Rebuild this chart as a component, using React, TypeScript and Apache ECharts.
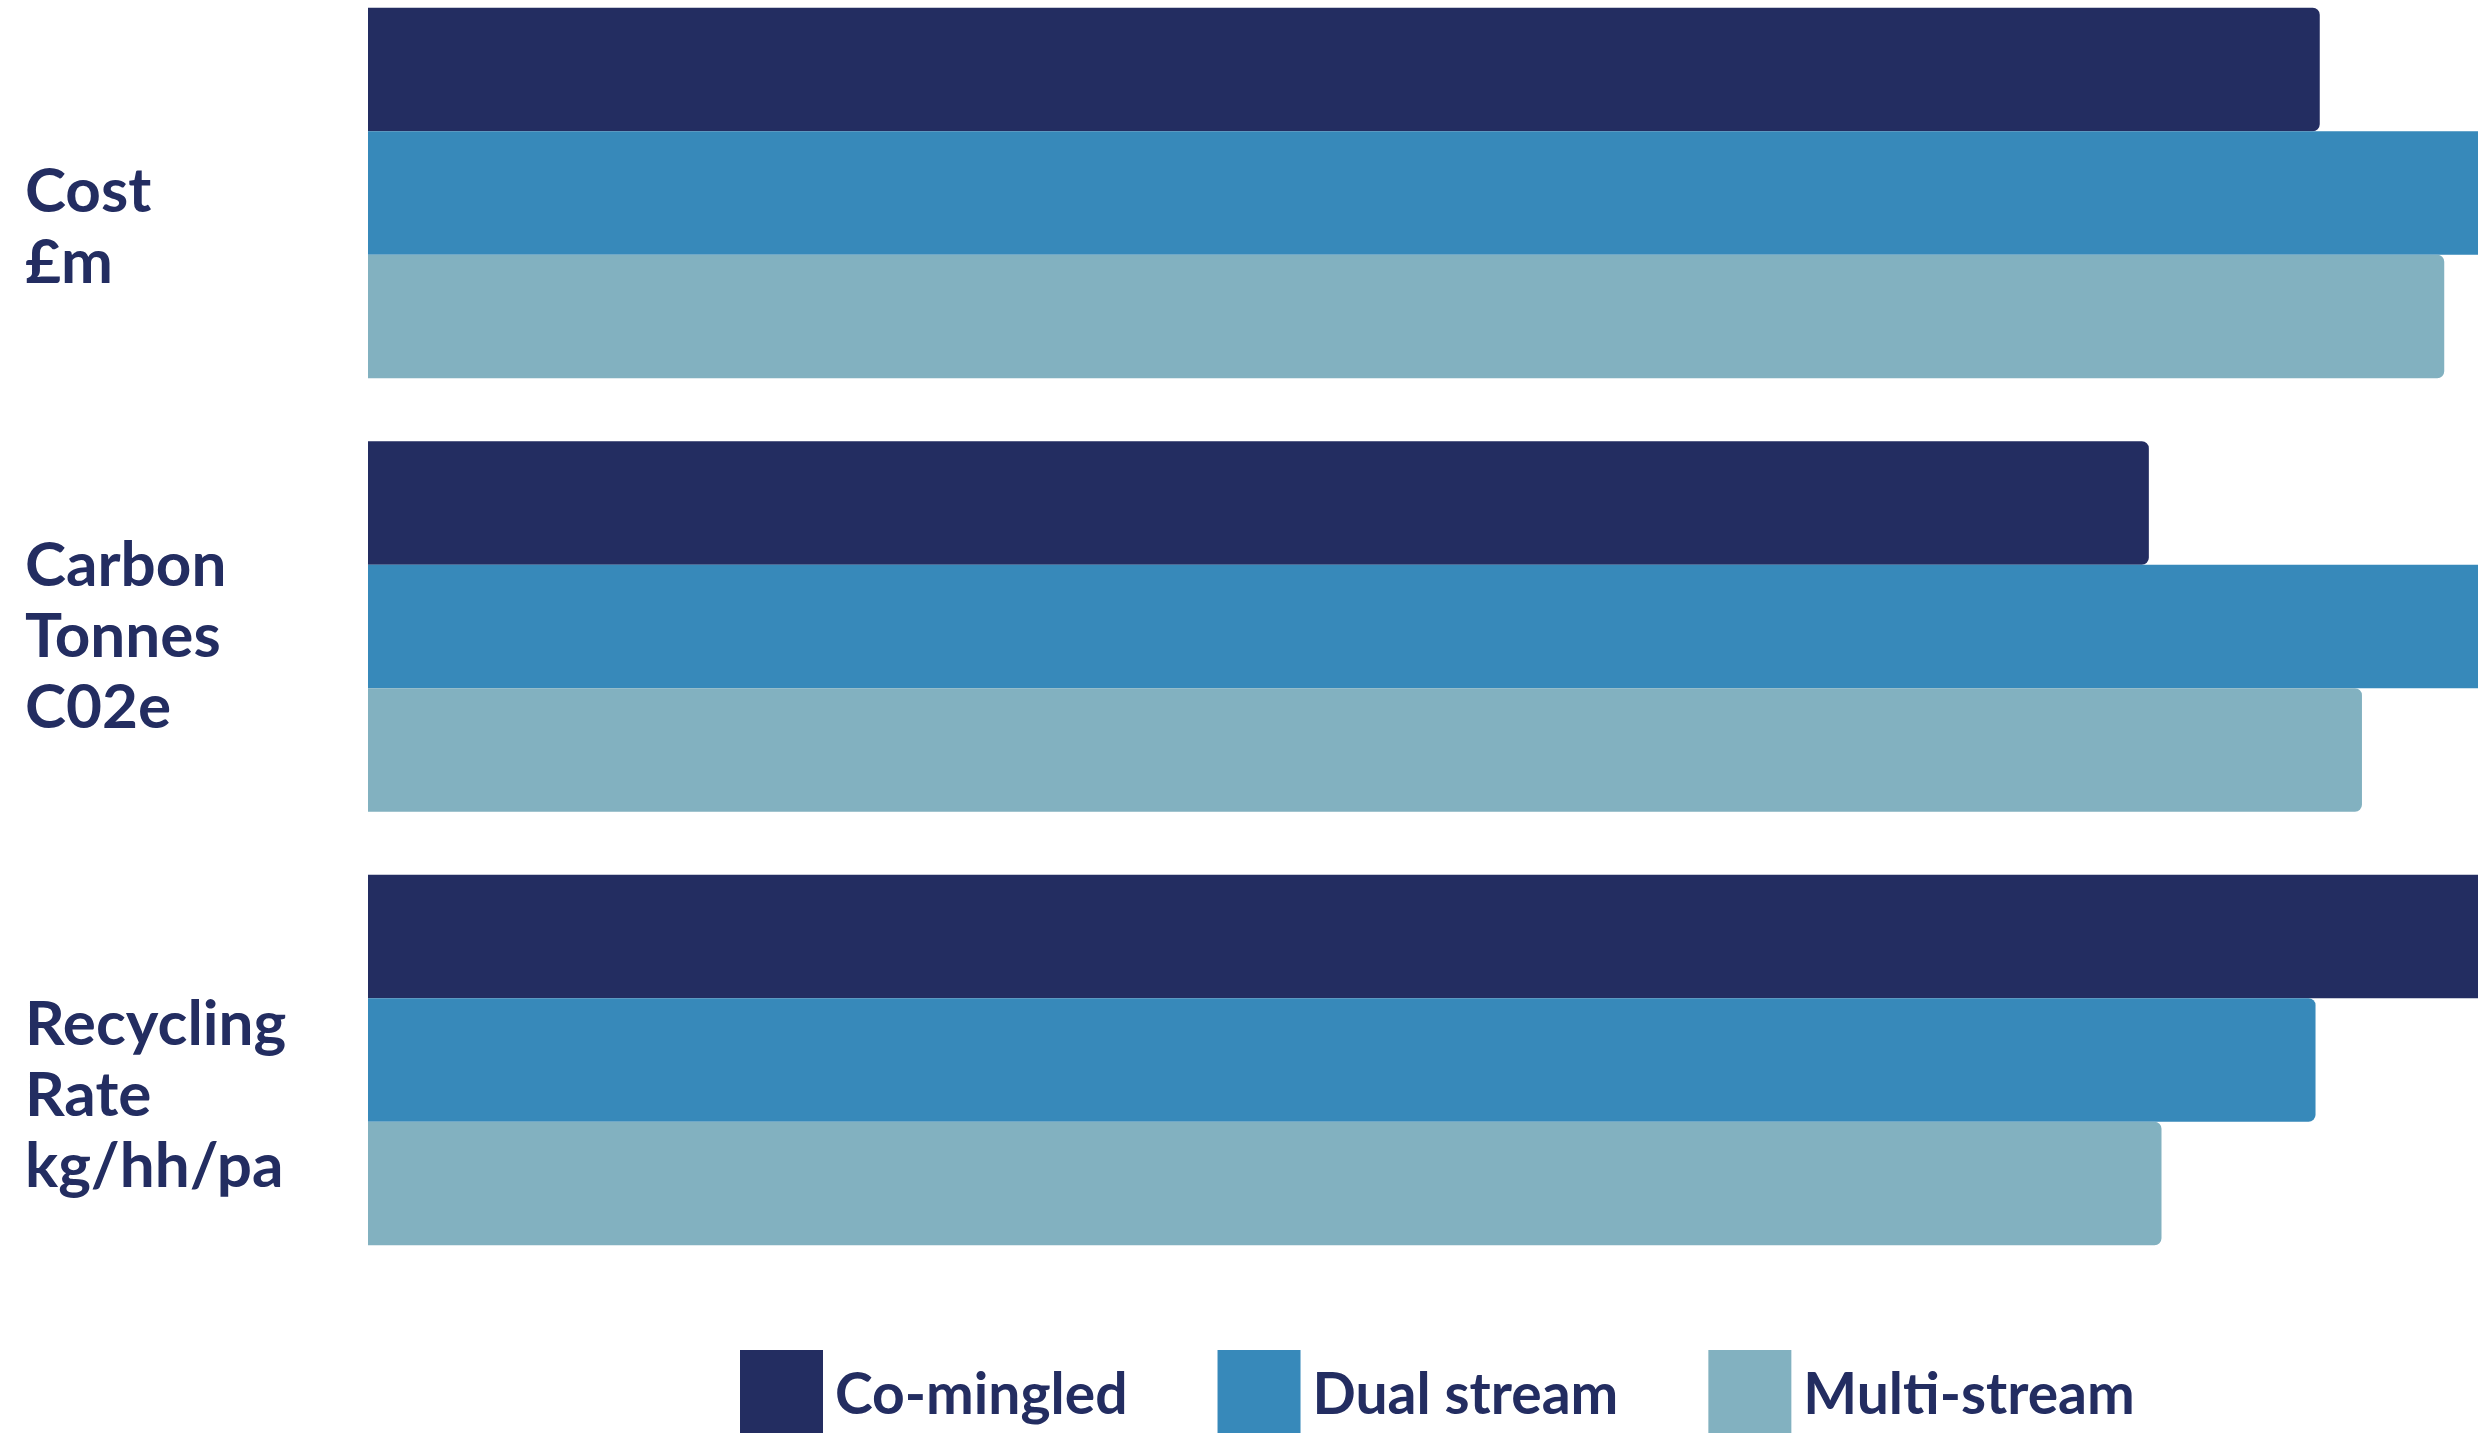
import React, { useEffect, useRef } from 'react';
import * as echarts from 'echarts';

const categories = ['Cost\n£m', 'Carbon\nTonnes\nC02e', 'Recycling\nRate\nkg/hh/pa'];
const seriesNames = ['Co-mingled', 'Dual stream', 'Multi-stream'];
// values expressed as share of the visible plot width (100 = right edge of picture)
const coMingled = [92.5, 84.4, 110];
const dualStream = [110, 110, 92.3];
const multiStream = [98.4, 94.5, 85.0];
const seriesColors = ['#232D61', '#3789BA', '#82B1C0'];
const labelGap = [60, 12, 64];

const TEXT = '#232D61';

export default function App() {
  const ref = useRef<HTMLDivElement>(null);
  useEffect(() => {
    if (!ref.current) return;
    const chart = echarts.init(ref.current, null, { renderer: 'svg' });
    const values = [coMingled, dualStream, multiStream];
    const rich: Record<string, any> = {
      t: {
        fontFamily: 'Lato',
        fontWeight: 'bold',
        fontSize: 62,
        lineHeight: 71,
        color: TEXT,
        align: 'left',
      },
    };
    labelGap.forEach((g, i) => {
      rich['g' + i] = { fontSize: 1, lineHeight: g, color: TEXT };
    });
    chart.setOption({
      animation: false,
      backgroundColor: '#ffffff',
      grid: {
        left: 368,
        right: -422,
        top: -23.75,
        bottom: 156.25,
        containLabel: false,
        outerBoundsMode: 'none',
      },
      legend: {
        data: seriesNames,
        left: 740,
        top: 1350,
        padding: 0,
        icon: 'rect',
        itemWidth: 83,
        itemHeight: 83,
        itemGap: 90,
        textStyle: {
          fontFamily: 'Lato',
          fontWeight: 'bold',
          fontSize: 57,
          color: TEXT,
          padding: [0, 0, 0, 7],
        },
      },
      xAxis: {
        type: 'value',
        min: 0,
        max: 120,
        show: false,
      },
      yAxis: {
        type: 'category',
        inverse: true,
        data: categories,
        axisLine: { show: false },
        axisTick: { show: false },
        splitLine: { show: false },
        axisLabel: {
          align: 'left',
          margin: 343,
          fontFamily: 'Lato',
          fontWeight: 'bold',
          fontSize: 62,
          lineHeight: 71,
          color: TEXT,
          formatter: (value: string, index: number) =>
            `{g${index}| }\n` + value.split('\n').map((l) => `{t|${l}}`).join('\n'),
          rich,
        },
      },
      series: seriesNames.map((name, i) => ({
        name,
        type: 'bar',
        data: values[i],
        barWidth: 123.5,
        barGap: '0%',
        itemStyle: { color: seriesColors[i], borderRadius: [0, 7, 7, 0] },
      })),
    });
    return () => chart.dispose();
  }, []);
  return (
    <div
      ref={ref}
      style={{ position: 'absolute', left: 0, top: 0, width: 2478, height: 1433 }}
    />
  );
}
